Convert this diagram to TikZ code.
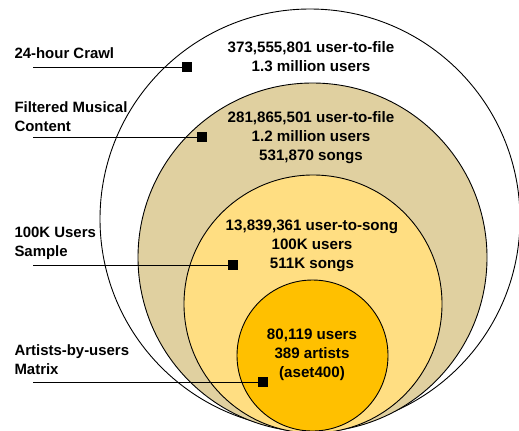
\documentclass[tikz,border=0pt]{standalone}
\usepackage{fontspec}
\setmainfont{Liberation Sans}
\usepackage{tikz}
\usetikzlibrary{positioning}
\definecolor{crawlfill}{RGB}{255,255,255}
\definecolor{musicfill}{RGB}{224,208,160}
\definecolor{samplefill}{RGB}{255,222,130}
\definecolor{matrixfill}{RGB}{255,192,0}

\begin{document}
\begin{tikzpicture}[x=1bp, y=-1bp,
    ring/.style={draw, circle, inner sep=0pt, line width=0.9pt},
    marker/.style={fill=black, minimum size=9.5bp, inner sep=0pt},
    lbl/.style={anchor=west, align=left, font=\fontsize{15pt}{19pt}\selectfont\bfseries},
    info/.style={align=center, font=\fontsize{15.2pt}{19pt}\selectfont\bfseries},
    lead/.style={line width=0.8pt}
]
\useasboundingbox (0,0) rectangle (519,430);
\clip (0,0) rectangle (519,430);

% nested sets
\node[ring, fill=crawlfill, minimum size=420bp] (crawl) at (310,219) {};
\node[ring, fill=musicfill, minimum size=349bp] (music) at (312.5,257.5) {};
\node[ring, fill=samplefill, minimum size=258bp] (sample) at (313,304) {};
\node[ring, fill=matrixfill, minimum size=151bp] (matrix) at (312.5,355.5) {};

% contents
\node[info] (crawltxt) at (311,57) {373,555,801 user-to-file\\1.3 million users};
\node[info] (musictxt) at (311,138) {281,865,501 user-to-file\\1.2 million users\\531,870 songs};
\node[info] (sampletxt) at (312,246) {13,839,361 user-to-song\\100K users\\511K songs};
\node[info] (matrixtxt) at (312,355) {80,119 users\\389 artists\\(aset400)};

% labels on the left
\node[lbl] (crawllbl) at (11,53) {24-hour Crawl};
\node[lbl] (musiclbl) at (11,116.5) {Filtered Musical\\Content};
\node[lbl] (samplelbl) at (11,243.5) {100K Users\\Sample};
\node[lbl] (matrixlbl) at (11,360) {Artists-by-users\\Matrix};

\node[marker] (crawlmark) at (187,67) {};
\node[marker] (musicmark) at (202,137) {};
\node[marker] (samplemark) at (233,265) {};
\node[marker] (matrixmark) at (263,382) {};

\coordinate (crawlend) at (33,67);
\coordinate (musicend) at (33,137);
\coordinate (sampleend) at (33,265);
\coordinate (matrixend) at (33,382);

\draw[lead] (crawlend) -- (crawlmark);
\draw[lead] (musicend) -- (musicmark);
\draw[lead] (sampleend) -- (samplemark);
\draw[lead] (matrixend) -- (matrixmark);
\end{tikzpicture}
\end{document}
